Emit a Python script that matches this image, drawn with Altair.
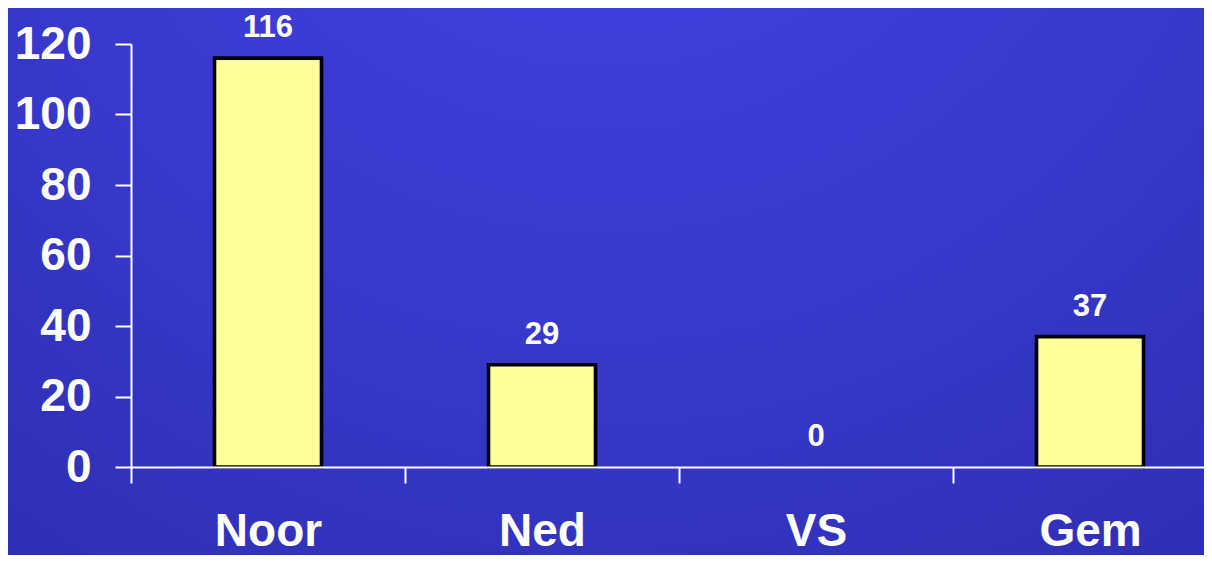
import altair as alt
import pandas as pd

categories = ["Noor", "Ned", "VS", "Gem"]
values = [116, 29, 0, 37]
y_ticks = [0, 20, 40, 60, 80, 100, 120]

df = pd.DataFrame({"cat": categories, "val": values})
bg_df = pd.DataFrame({"a": [0]})

W = 1073
H = 423
PAD_L, PAD_T = 123, 36
SVG_W, SVG_H = 1196, 547

FONT = "Liberation Sans"

bg = alt.Chart(bg_df).mark_rect(
    fill=alt.Gradient(
        gradient="radial",
        x1=0.5, y1=0.0, r1=0.0,
        x2=0.5, y2=0.0, r2=1.0,
        stops=[
            alt.GradientStop(color="#4444E8", offset=0),
            alt.GradientStop(color="#3838CC", offset=0.55),
            alt.GradientStop(color="#2B2BAC", offset=1),
        ],
    ),
    strokeWidth=0,
).encode(
    x=alt.value(-PAD_L),
    x2=alt.value(SVG_W - PAD_L),
    y=alt.value(-PAD_T),
    y2=alt.value(SVG_H - PAD_T),
)

x_enc = alt.X(
    "cat:N",
    sort=categories,
    title=None,
    scale=alt.Scale(range=[0, 1096], paddingInner=0, paddingOuter=0),
    axis=alt.Axis(
        labelAngle=0,
        tickBand="extent",
        labelBaseline="alphabetic",
        labelPadding=62,
        zindex=1,
    ),
)
y_enc = alt.Y(
    "val:Q",
    title=None,
    scale=alt.Scale(domain=[0, 120], nice=False),
    axis=alt.Axis(values=y_ticks, labelPadding=24, zindex=1),
)

bars = alt.Chart(df).transform_filter("datum.val > 0").mark_bar(
    size=107, fill="#FFFF99", stroke="black", strokeWidth=3.6
).encode(x=x_enc, y=y_enc)

labels = alt.Chart(df).mark_text(
    dy=-21, baseline="alphabetic", fontSize=31, fontWeight="bold",
    font=FONT, color="white"
).encode(x=alt.X("cat:N", sort=categories), y="val:Q", text="val:Q")

chart = alt.layer(bg, bars, labels).properties(
    width=W, height=H,
    autosize=alt.AutoSizeParams(type="none"),
    padding={"left": PAD_L, "top": PAD_T, "right": SVG_W - PAD_L - W, "bottom": SVG_H - PAD_T - H},
    background="#3535C0",
).configure_view(strokeWidth=0).configure_axis(
    grid=False,
    labelFont=FONT,
    labelFontWeight="bold",
    labelFontSize=46,
    labelColor="white",
    domainColor="white",
    domainWidth=2,
    tickColor="white",
    tickWidth=2,
    tickSize=16,
)

chart.save("out.html", embed_options={"renderer": "svg", "actions": False})
